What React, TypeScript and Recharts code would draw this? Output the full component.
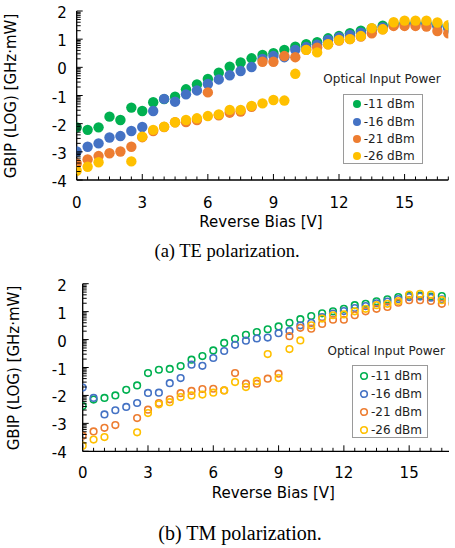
import React from 'react';
import { ScatterChart, Scatter, XAxis, YAxis, Legend } from 'recharts';

// reverse bias [V]
const VOLTS = [0, 0.5, 1, 1.5, 2, 2.5, 3, 3.5, 4, 4.5, 5, 5.5, 6, 6.5, 7, 7.5, 8, 8.5, 9, 9.5, 10, 10.5, 11, 11.5, 12, 12.5, 13, 13.5, 14, 14.5, 15, 15.5, 16, 16.5, 17];

// TE polarization, log10(GBIP)
const TE_11 = [-2.13, -2.22, -2.13, -1.75, -1.87, -1.43, -1.55, -1.24, -1.13, -1.04, -0.78, -0.61, -0.41, -0.19, 0.02, 0.17, 0.32, 0.44, 0.5, 0.62, 0.73, 0.82, 0.89, 1.03, 1.11, 1.21, 1.3, 1.38, 1.48, 1.54, 1.57, 1.58, 1.57, 1.5, 1.42];
const TE_16 = [-2.99, -2.82, -2.7, -2.49, -2.44, -2.26, -2.12, -1.55, -1.12, -1.22, -0.96, -0.82, -0.59, -0.43, -0.28, -0.13, 0.01, 0.3, 0.4, 0.36, 0.62, 0.72, 0.8, 0.97, 1.07, 1.15, 1.23, 1.32, 1.42, 1.5, 1.54, 1.55, 1.54, 1.46, 1.38];
const TE_21 = [-3.41, -3.27, -3.15, -3.05, -2.99, -2.82, -2.48, -2.26, -2.12, -1.95, -1.94, -1.87, -0.89, -1.7, -1.61, -1.57, -1.4, 0.2, 0.2, 0.4, 0.36, 0.62, 0.7, 0.82, 0.95, 1.0, 1.09, 1.21, 1.35, 1.47, 1.47, 1.47, 1.45, 1.29, 1.21];
const TE_26 = [-3.67, -3.53, -3.37, null, null, -3.34, -2.46, -2.22, -2.11, -1.95, -1.87, -1.81, -1.73, -1.67, -1.51, -1.51, -1.37, -1.28, -1.16, -1.18, -0.23, 0.62, 0.53, 0.82, 0.97, 1.0, 1.11, 1.39, 1.35, 1.6, 1.66, 1.66, 1.66, 1.59, 1.5];

// TM polarization, log10(GBIP)
const TM_11 = [-2.38, -2.15, -2.09, -2.0, -1.8, -1.64, -1.2, -1.08, -1.05, -0.95, -0.72, -0.59, -0.39, -0.12, 0.03, 0.17, 0.27, 0.37, 0.47, 0.6, 0.73, 0.84, 0.94, 1.01, 1.1, 1.23, 1.28, 1.37, 1.44, 1.52, 1.58, 1.57, 1.54, 1.56, 1.46];
const TM_16 = [-1.72, -2.09, -2.68, -2.53, -2.41, -2.27, -1.91, -1.9, -1.56, -1.38, -0.9, -0.94, -0.66, -0.41, -0.19, -0.04, 0.04, 0.07, 0.23, 0.31, 0.51, 0.6, 0.8, 0.93, 1.02, 1.13, 1.2, 1.3, 1.36, 1.45, 1.52, 1.54, 1.5, 1.44, 1.36];
const TM_21 = [-3.44, -3.29, -3.16, -3.06, null, -2.81, -2.51, -2.27, -2.14, -1.92, -1.84, -1.77, -1.76, -1.82, -1.2, -1.58, -1.58, -1.4, -1.22, 0.12, 0.42, 0.39, 0.56, 0.71, 0.71, 0.87, 1.01, 1.1, 1.17, 1.32, 1.41, 1.41, 1.38, 1.28, 1.28];
const TM_26 = [-3.8, -3.58, -3.49, null, null, -3.32, -2.63, -2.32, -2.24, -2.06, -2.0, -1.97, -1.9, -1.82, -1.52, -1.7, -1.48, -0.52, -1.38, -0.34, -0.03, 0.51, 0.75, 0.87, 0.9, 1.01, 1.1, 1.23, 1.28, 1.38, 1.61, 1.64, 1.61, 1.41, 1.28];

const NAMES = ['-11 dBm', '-16 dBm', '-21 dBm', '-26 dBm'];
const COLORS = ['#00b050', '#4472c4', '#ed7d31', '#ffc000'];

const X_MAJOR = [0, 3, 6, 9, 12, 15];
const X_TICKS = [0, 0.5, 1, 1.5, 2, 2.5, 3, 3.5, 4, 4.5, 5, 5.5, 6, 6.5, 7, 7.5, 8, 8.5, 9, 9.5, 10, 10.5, 11, 11.5, 12, 12.5, 13, 13.5, 14, 14.5, 15, 15.5, 16, 16.5, 17];
const Y_MAJOR = [-4, -3, -2, -1, 0, 1, 2];
const LOG_MINOR = [0.301, 0.477, 0.602, 0.699, 0.778, 0.845, 0.903, 0.954];
const Y_TICKS = [...Y_MAJOR, ...Y_MAJOR.filter(n => n < 2).flatMap(n => LOG_MINOR.map(s => n + s))];

const SANS = 'DejaVu Sans';

const toPoints = (vals: (number | null)[]) =>
    VOLTS.map((v, i) => ({ v, g: vals[i] })).filter(p => p.g !== null);

type Cfg = {
    top: number; height: number;
    box: { left: number; right: number; top: number; bottom: number };
    xMax: number; yGap: number; xTickDy: number;
    xTitle: { x: number; y: number }; yTitle: { x: number; y: number };
    hollow: boolean; r: number;
    legend: { left: number; top: number; titleX: number; titleY: number; boxX: number; boxY: number; boxW: number; boxH: number; markX: number; textX: number; rows: number[] };
};

const TE_CFG: Cfg = {
    top: 0, height: 240,
    box: { left: 76.7, right: 448.3, top: 11, bottom: 180 },
    xMax: 17, yGap: 10, xTickDy: 23.3,
    xTitle: { x: 261, y: 222.3 }, yTitle: { x: 10.5, y: 96 },
    hollow: false, r: 5.2,
    legend: { left: 320, top: 70, titleX: 62, titleY: 9, boxX: 22.5, boxY: 24.3, boxW: 80, boxH: 70, markX: 13.5, textX: 20.2, rows: [9, 26.3, 43.7, 61] },
};

const TM_CFG: Cfg = {
    top: 270, height: 240,
    box: { left: 82.7, right: 449, top: 13.7, bottom: 181.3 },
    xMax: 16.83, yGap: 16, xTickDy: 22,
    xTitle: { x: 273.3, y: 223.3 }, yTitle: { x: 14, y: 98 },
    hollow: true, r: 3.3,
    legend: { left: 320, top: 70, titleX: 66.2, titleY: 11.3, boxX: 31.7, boxY: 25.3, boxW: 76.6, boxH: 72.7, markX: 11.6, textX: 18.3, rows: [9.4, 27.4, 45.4, 63.4] },
};

function Marker({ color, hollow, r }: { color: string; hollow: boolean; r: number }) {
    return (
        <svg width={12} height={12} style={{ position: 'absolute', left: -6, top: -6 }}>
            {hollow
                ? <circle cx={6} cy={6} r={r} fill="none" stroke={color} strokeWidth={1.6} />
                : <circle cx={6} cy={6} r={r} fill={color} />}
        </svg>
    );
}

function Panel({ cfg, series }: { cfg: Cfg; series: (number | null)[][] }) {
    const { box, legend: L } = cfg;
    const xTicks = X_TICKS.filter(t => t <= cfg.xMax);

    const leftTick = (p: any) => {
        const v = p.payload.value;
        const y = p.payload.coordinate;
        const major = Number.isInteger(v);
        return (
            <g>
                <line x1={box.left} x2={box.left + (major ? 6 : 4)} y1={y} y2={y} stroke="#000" strokeWidth={1} />
                {major && (
                    <text x={box.left - cfg.yGap} y={y + 2} textAnchor="end" dominantBaseline="central"
                        fontFamily={SANS} fontSize={15} fill="#000">{v}</text>
                )}
            </g>
        );
    };
    const rightTick = (p: any) => {
        const v = p.payload.value;
        const y = p.payload.coordinate;
        const major = Number.isInteger(v);
        return <line x1={box.right - (major ? 6 : 4)} x2={box.right} y1={y} y2={y} stroke="#000" strokeWidth={1} />;
    };
    const bottomTick = (p: any) => {
        const v = p.payload.value;
        const x = p.payload.coordinate;
        const major = X_MAJOR.includes(v);
        return (
            <g>
                <line x1={x} x2={x} y1={box.bottom} y2={box.bottom - (major ? 6 : 3.5)} stroke="#000" strokeWidth={1} />
                {major && (
                    <text x={x} y={box.bottom + cfg.xTickDy} textAnchor="middle" dominantBaseline="central"
                        fontFamily={SANS} fontSize={15} fill="#000">{v}</text>
                )}
            </g>
        );
    };
    const topTick = (p: any) => {
        const v = p.payload.value;
        const x = p.payload.coordinate;
        const major = X_MAJOR.includes(v);
        return <line x1={x} x2={x} y1={box.top} y2={box.top + (major ? 6 : 3.5)} stroke="#000" strokeWidth={1} />;
    };

    const legendContent = () => (
        <div style={{ position: 'relative', width: 135, height: 100, fontFamily: SANS, color: '#222' }}>
            <div style={{ position: 'absolute', left: L.titleX - 70, width: 140, top: L.titleY - 8, lineHeight: '16px', fontSize: 12, textAlign: 'center', whiteSpace: 'nowrap' }}>
                Optical Input Power
            </div>
            <div style={{ position: 'absolute', left: L.boxX, top: L.boxY, width: L.boxW, height: L.boxH, border: '1px solid #9a9a9a', boxSizing: 'border-box', background: '#fff' }}>
                {NAMES.map((n, i) => (
                    <div key={n} style={{ position: 'absolute', left: 0, top: L.rows[i] }}>
                        <div style={{ position: 'absolute', left: L.markX, top: 0 }}>
                            <Marker color={COLORS[i]} hollow={cfg.hollow} r={cfg.hollow ? 3.3 : 4} />
                        </div>
                        <div style={{ position: 'absolute', left: L.textX, top: -8, lineHeight: '16px', fontSize: 12, whiteSpace: 'nowrap' }}>{n}</div>
                    </div>
                ))}
            </div>
        </div>
    );

    const axisLine = { stroke: '#000', strokeWidth: 1.3 };

    return (
        <div style={{ position: 'absolute', left: 0, top: cfg.top }}>
            <ScatterChart width={455} height={cfg.height}
                margin={{ top: box.top, right: 455 - box.right, left: 0, bottom: 0 }}>
                <XAxis xAxisId="b" dataKey="v" type="number" domain={[0, cfg.xMax]} allowDataOverflow
                    ticks={xTicks} interval={0} tick={bottomTick} tickLine={false} axisLine={axisLine}
                    height={cfg.height - box.bottom}
                    label={() => (
                        <text x={cfg.xTitle.x} y={cfg.xTitle.y} textAnchor="middle" dominantBaseline="central"
                            fontFamily={SANS} fontSize={15} fill="#000">Reverse Bias [V]</text>
                    )} />
                <XAxis xAxisId="t" orientation="top" dataKey="v" type="number" domain={[0, cfg.xMax]} allowDataOverflow
                    ticks={xTicks} interval={0} tick={topTick} tickLine={false} axisLine={axisLine} height={0} />
                <YAxis yAxisId="l" dataKey="g" type="number" domain={[-4, 2]} allowDataOverflow
                    ticks={Y_TICKS} interval={0} tick={leftTick} tickLine={false} axisLine={axisLine}
                    width={box.left}
                    label={() => (
                        <text transform={`translate(${cfg.yTitle.x},${cfg.yTitle.y}) rotate(-90)`} textAnchor="middle"
                            dominantBaseline="central" fontFamily={SANS} fontSize={15} fill="#000">GBIP (LOG) [GHz·mW]</text>
                    )} />
                <YAxis yAxisId="r" orientation="right" dataKey="g" type="number" domain={[-4, 2]} allowDataOverflow
                    ticks={Y_TICKS} interval={0} tick={rightTick} tickLine={false} axisLine={axisLine} width={0} />
                {series.map((s, i) => (
                    <Scatter key={NAMES[i]} name={NAMES[i]} data={toPoints(s)} xAxisId="b" yAxisId="l"
                        fill={COLORS[i]} isAnimationActive={false}
                        shape={(p: any) => cfg.hollow
                            ? <circle cx={p.cx} cy={p.cy} r={cfg.r} fill="none" stroke={COLORS[i]} strokeWidth={1.6} />
                            : <circle cx={p.cx} cy={p.cy} r={cfg.r} fill={COLORS[i]} />} />
                ))}
                <Legend layout="vertical" align="center" verticalAlign="middle"
                    wrapperStyle={{ left: L.left, top: L.top, width: 135, height: 100 }}
                    content={legendContent} />
            </ScatterChart>
        </div>
    );
}

const captionStyle = (cx: number, cy: number, size: number): React.CSSProperties => ({
    position: 'absolute', left: cx - 150, width: 300, top: cy - size * 0.6, lineHeight: `${size * 1.2}px`,
    fontFamily: 'Liberation Serif', fontSize: size, textAlign: 'center', color: '#000',
});

export default function App() {
    return (
        <div style={{ position: 'absolute', left: 0, top: 0, width: 455, height: 548, background: '#fff', overflow: 'hidden' }}>
            <Panel cfg={TE_CFG} series={[TE_11, TE_16, TE_21, TE_26]} />
            <div style={captionStyle(227, 250.7, 18.5)}>(a) TE polarization.</div>
            <Panel cfg={TM_CFG} series={[TM_11, TM_16, TM_21, TM_26]} />
            <div style={captionStyle(240, 533.3, 20)}>(b) TM polarization.</div>
        </div>
    );
}
